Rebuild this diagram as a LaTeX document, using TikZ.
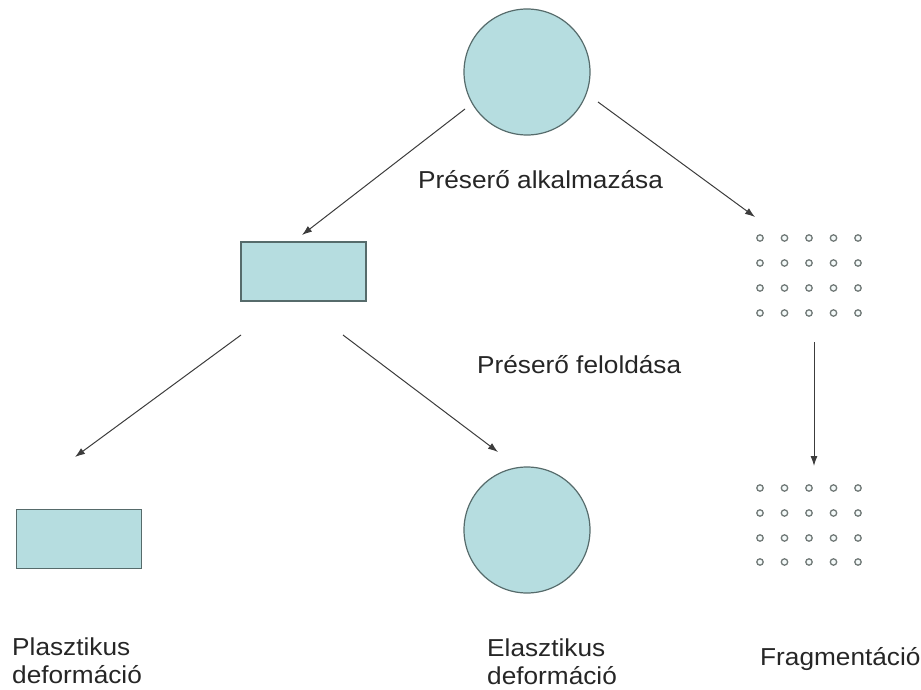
\documentclass[tikz,border=0pt]{standalone}
\usepackage{fontspec}
\setmainfont{Liberation Sans}[FakeStretch=1.07]
\usetikzlibrary{arrows.meta}
\definecolor{shapefill}{HTML}{B6DDE0}
\definecolor{shapeline}{HTML}{566B6B}
\definecolor{arrowcol}{HTML}{3C3C3C}
\definecolor{dotline}{HTML}{727A78}
\tikzset{
  shapebox/.style={draw=shapeline, fill=shapefill, line width=1.2pt, inner sep=0pt},
  ball/.style={shapebox, circle, minimum size=126pt},
  slab/.style={shapebox, rectangle, minimum width=125pt, minimum height=59pt},
  conn/.style={draw=arrowcol, line width=1pt, -{Latex[length=10pt,width=7pt]}},
  lbl/.style={inner sep=0pt, font=\fontsize{24.5}{28}\selectfont, text=black!85},
  dot/.style={draw=dotline, fill=white!85!shapefill, line width=1.3pt},
}
\begin{document}
\begin{tikzpicture}[x=1pt, y=-1pt]
\useasboundingbox (0,0) rectangle (921,690);
% shapes
\node[ball] (top) at (527,72) {};
\node[slab] (mid) at (303.5,271.5) {};
\node[slab] (plast) at (79,539) {};
\node[ball] (elast) at (527,530) {};
% dot grids
\foreach \x in {760,784.5,809,833.5,858}{
  \foreach \y in {238,263,288,313}{
    \draw[dot] (\x,\y) circle (3.2pt);
  }
  \foreach \y in {488,513,538,562}{
    \draw[dot] (\x,\y) circle (3.2pt);
  }
}
% arrow ends
\coordinate (a1s) at (465,109);
\coordinate (a1e) at (302,235);
\coordinate (a2s) at (598,102);
\coordinate (a2e) at (755,217);
\coordinate (a3s) at (241,335);
\coordinate (a3e) at (75,457);
\coordinate (a4s) at (343,335);
\coordinate (a4e) at (498,452);
\coordinate (a5s) at (814,342);
\coordinate (a5e) at (814,466);
\draw[conn] (a1s) -- (a1e);
\draw[conn] (a2s) -- (a2e);
\draw[conn] (a3s) -- (a3e);
\draw[conn] (a4s) -- (a4e);
\draw[conn] (a5s) -- (a5e);
% labels
\node[lbl, anchor=base west] (l1) at (418,188) {Préserő alkalmazása};
\node[lbl, anchor=base west] (l2) at (477,373) {Préserő feloldása};
\node[lbl, anchor=base west, align=left] (l3) at (12,683) {Plasztikus\\deformáció};
\node[lbl, anchor=base west, align=left] (l4) at (487,684) {Elasztikus\\deformáció};
\node[lbl, anchor=base west] (l5) at (760,665) {Fragmentáció};
\end{tikzpicture}
\end{document}
